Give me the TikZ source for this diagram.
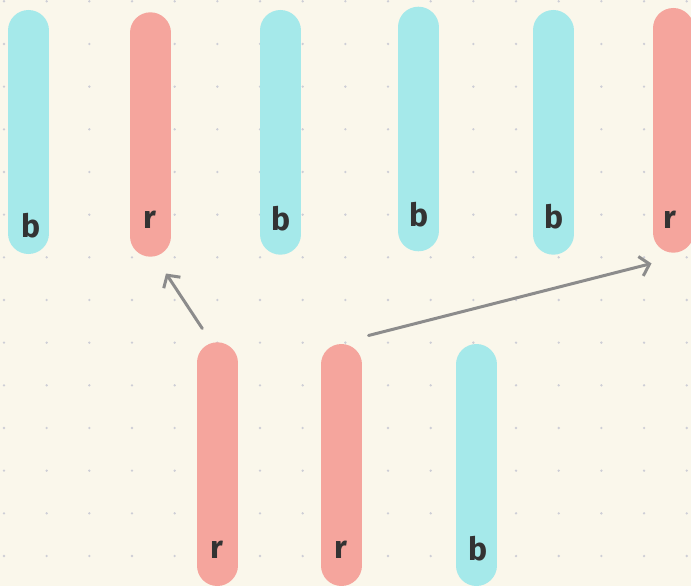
\documentclass[tikz,border=0pt]{standalone}
\usepackage{fontspec}
\setmainfont{Fira Sans}
\usetikzlibrary{arrows.meta}
\definecolor{bgcol}{HTML}{FAF7EB}
\definecolor{dotcol}{HTML}{CDCED6}
\definecolor{cyanbar}{HTML}{A5E9EA}
\definecolor{redbar}{HTML}{F5A59D}
\definecolor{arrowcol}{HTML}{8C8C8C}
\definecolor{inkcol}{HTML}{333333}
\begin{document}
\begin{tikzpicture}[x=1pt,y=-1pt,
  bar/.style={line width=41pt, line cap=round},
  cbar/.style={bar, draw=cyanbar},
  rbar/.style={bar, draw=redbar},
  letter/.style={text=inkcol, font=\fontsize{32}{32}\selectfont\bfseries, inner sep=0pt},
  conn/.style={draw=arrowcol, line width=3pt, line cap=round,
    -{Straight Barb[length=9pt,width=20pt,line width=3pt]}}
]
\fill[bgcol] (0,0) rectangle (691,586);
\useasboundingbox (0,0) rectangle (691,586);
\foreach \i in {0,...,16}{
  \foreach \j in {0,...,13}{
    \fill[dotcol] ({4+42.67*\i},{1.3+42.67*\j}) circle (1.3pt);
  }
}
% top row bars
\draw[cbar] (28.5,30.5) coordinate (b1t) -- (28.5,233.5) coordinate (b1b);
\draw[rbar] (150.3,32.8) coordinate (b2t) -- (150.3,236.2) coordinate (b2b);
\draw[cbar] (280.3,30.5) coordinate (b3t) -- (280.3,234.2) coordinate (b3b);
\draw[cbar] (418.2,27.2) coordinate (b4t) -- (418.2,230.8) coordinate (b4b);
\draw[cbar] (553,30.5) coordinate (b5t) -- (553,234.2) coordinate (b5b);
\draw[rbar] (673,28.5) coordinate (b6t) -- (673,232.2) coordinate (b6b);
% bottom row bars
\draw[rbar] (217,362.8) coordinate (b7t) -- (217,565.5) coordinate (b7b);
\draw[rbar] (341.3,364.5) coordinate (b8t) -- (341.3,565.5) coordinate (b8b);
\draw[cbar] (476.3,364.5) coordinate (b9t) -- (476.3,565.5) coordinate (b9b);
% letters
\node[letter] (l1) at (31,226) {b};
\node[letter] (l2) at (150,220) {r};
\node[letter] (l3) at (281,219) {b};
\node[letter] (l4) at (419,215) {b};
\node[letter] (l5) at (554,217) {b};
\node[letter] (l6) at (670,220) {r};
\node[letter] (l7) at (217,550) {r};
\node[letter] (l8) at (341,550) {r};
\node[letter] (l9) at (478,549) {b};
% arrows
\coordinate (a1s) at (202.3,328.5);
\coordinate (a1e) at (166,273.5);
\coordinate (a2s) at (368.5,335.5);
\coordinate (a2e) at (651.5,263.5);
\draw[conn] (a1s) -- (a1e);
\draw[conn] (a2s) -- (a2e);
\end{tikzpicture}
\end{document}
